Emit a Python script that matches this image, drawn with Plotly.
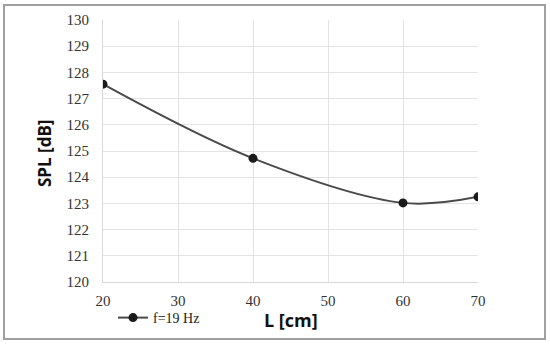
import plotly.graph_objects as go

L_cm = [20, 40, 60, 70]
spl_db = [127.55, 124.72, 123.02, 123.25]
series_name = "f=19 Hz"
x_ticks = [20, 30, 40, 50, 60, 70]
y_ticks = [120, 121, 122, 123, 124, 125, 126, 127, 128, 129, 130]

W, H = 550, 345
ml, mr, mt, mb = 103, 72, 20, 63
pw, ph = W - ml - mr, H - mt - mb

def px2x(px):
    return (px - ml) / pw

def px2y(py):
    return (H - mb - py) / ph

fig = go.Figure()
fig.add_trace(go.Scatter(
    x=L_cm, y=spl_db, name=series_name, mode="lines+markers",
    line=dict(color="#4a4a4a", width=2, shape="spline", smoothing=1.0),
    marker=dict(color="#1a1a1a", size=9),
))

fig.update_layout(
    width=W, height=H,
    margin=dict(l=ml, r=mr, t=mt, b=mb, autoexpand=False),
    paper_bgcolor="white", plot_bgcolor="white",
    showlegend=True,
    legend=dict(x=px2x(113), y=px2y(318), xanchor="left", yanchor="middle",
                font=dict(family="Liberation Serif", size=14, color="#222"),
                bgcolor="rgba(0,0,0,0)", itemwidth=30, tracegroupgap=0),
    xaxis=dict(range=[20, 70], tickvals=x_ticks, showgrid=True, gridcolor="#e3e3e3",
               gridwidth=1, zeroline=False, showline=True, linecolor="#d9d9d9",
               mirror=False, ticks="", ticklabelstandoff=5,
               tickfont=dict(family="Liberation Serif", size=15, color="#333")),
    yaxis=dict(range=[120, 130], tickvals=y_ticks, showgrid=True, gridcolor="#e3e3e3",
               gridwidth=1, zeroline=False, showline=True, linecolor="#d9d9d9",
               ticks="", ticklabelstandoff=10,
               tickfont=dict(family="Liberation Serif", size=15, color="#333")),
    shapes=[dict(type="rect", xref="paper", yref="paper",
                 x0=px2x(4), x1=px2x(545), y0=px2y(339), y1=px2y(5),
                 line=dict(color="#a0a0a0", width=2), layer="below")],
    annotations=[
        dict(text="<b>L [cm]</b>", xref="paper", yref="paper", x=px2x(291), y=px2y(320),
             showarrow=False, xanchor="center", yanchor="middle",
             font=dict(family="Open Sans", size=18, color="#111")),
        dict(text="<b>SPL [dB]</b>", xref="paper", yref="paper", x=px2x(44), y=px2y(153),
             showarrow=False, xanchor="center", yanchor="middle", textangle=-90,
             font=dict(family="Open Sans", size=17, color="#111")),
    ],
)

fig.write_html("out.html", config={"displayModeBar": False},
               post_script="document.body.style.margin='0';")
